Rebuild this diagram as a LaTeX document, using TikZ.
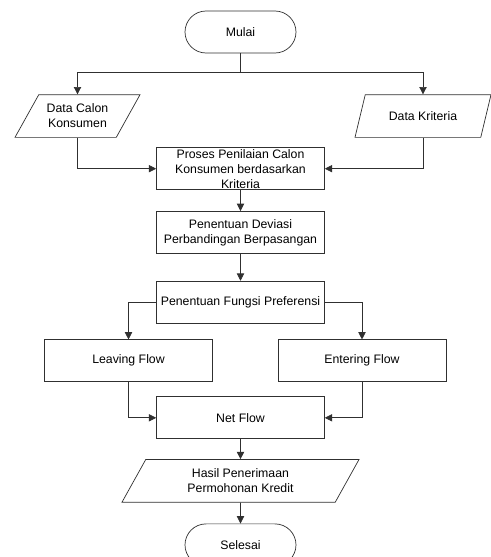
\documentclass[tikz,border=0pt]{standalone}
\usepackage{fontspec}
\setmainfont{Liberation Sans}
\usepackage{tikz}
\usetikzlibrary{shapes.geometric, arrows.meta, positioning}
\definecolor{LineGray}{HTML}{303030}

\begin{document}
\begin{tikzpicture}[
		node distance=0.6cm,
		every node/.style={font=\fontsize{10.5}{12.8}\selectfont},
		terminal/.style={draw=LineGray, rounded corners=0.63cm,
			minimum width=3.33cm, minimum height=1.26cm,
			align=center, line width=0.6pt},
		block/.style={draw=LineGray, rectangle,
			minimum width=5.04cm, minimum height=1.26cm,
			align=center, inner sep=1pt, line width=0.6pt},
		io/.style={draw=LineGray, trapezium, trapezium left angle=48,
			trapezium right angle=132, trapezium stretches body=true,
			minimum height=1.28cm, align=center, inner sep=1pt, line width=0.6pt},
		arr/.style={-{Triangle[length=0.22cm, width=0.22cm]}, LineGray, line width=0.6pt},
		line/.style={LineGray, line width=0.6pt},
		]
		\useasboundingbox (0,0) rectangle (14.73,-16.71);
		% ── Main vertical flow ───────────────────────────────────────────────────────
		\node[terminal] (start) at (7.215,-0.96) {Mulai};
		\coordinate[below=0.57cm of start] (split);
		\node[io, minimum width=3.75cm, below=1.23cm of start, xshift=-4.89cm]  (calon)  {Data Calon\\Konsumen};
		\node[io, minimum width=4.08cm, below=1.23cm of start, xshift=5.475cm]  (krit)   {Data Kriteria};
		\node[block, inner ysep=0pt, below=2.82cm of start] (proses) {Proses Penilaian Calon\\Konsumen berdasarkan\\Kriteria};
		\node[block, below=0.63cm of proses] (deviasi) {Penentuan Deviasi\\Perbandingan Berpasangan};
		\node[block, below=0.81cm of deviasi] (fungsi)  {Penentuan Fungsi Preferensi};
		% ── Flow branches (left = leaving, right = entering) ─────────────────────────
		\node[block, below=0.48cm of fungsi, xshift=-3.36cm] (leave) {Leaving Flow};
		\node[block, below=0.48cm of fungsi, xshift=3.645cm] (enter) {Entering Flow};
		% ── Continuation after flows ─────────────────────────────────────────────────
		\node[block, below=2.19cm of fungsi] (net)    {Net Flow};
		\node[io, minimum width=7.11cm, below=0.6cm of net] (hasil) {Hasil Penerimaan\\Permohonan Kredit};
		\node[terminal, below=0.63cm of hasil] (finish) {Selesai};
		% ── Input arrows ─────────────────────────────────────────────────────────────
		\draw[line] (start.south) -- (split);
		\draw[arr] (split) -| (calon.north);
		\draw[arr] (split) -| (krit.north);
		\draw[arr] (calon.south) |- (proses.west);
		\draw[arr] (krit.south)  |- (proses.east);
		% ── Main vertical arrows ─────────────────────────────────────────────────────
		\foreach \x/\y in {proses/deviasi, deviasi/fungsi, net/hasil, hasil/finish}
		\draw[arr] (\x) -- (\y);
		% ── Side / branch arrows ─────────────────────────────────────────────────────
		\draw[arr] (fungsi.west) -| (leave.north);
		\draw[arr] (fungsi.east) -| (enter.north);
		% Both flows rejoin at net flow
		\draw[arr] (leave.south) |- (net.west);
		\draw[arr] (enter.south) |- (net.east);
	\end{tikzpicture}
\end{document}
